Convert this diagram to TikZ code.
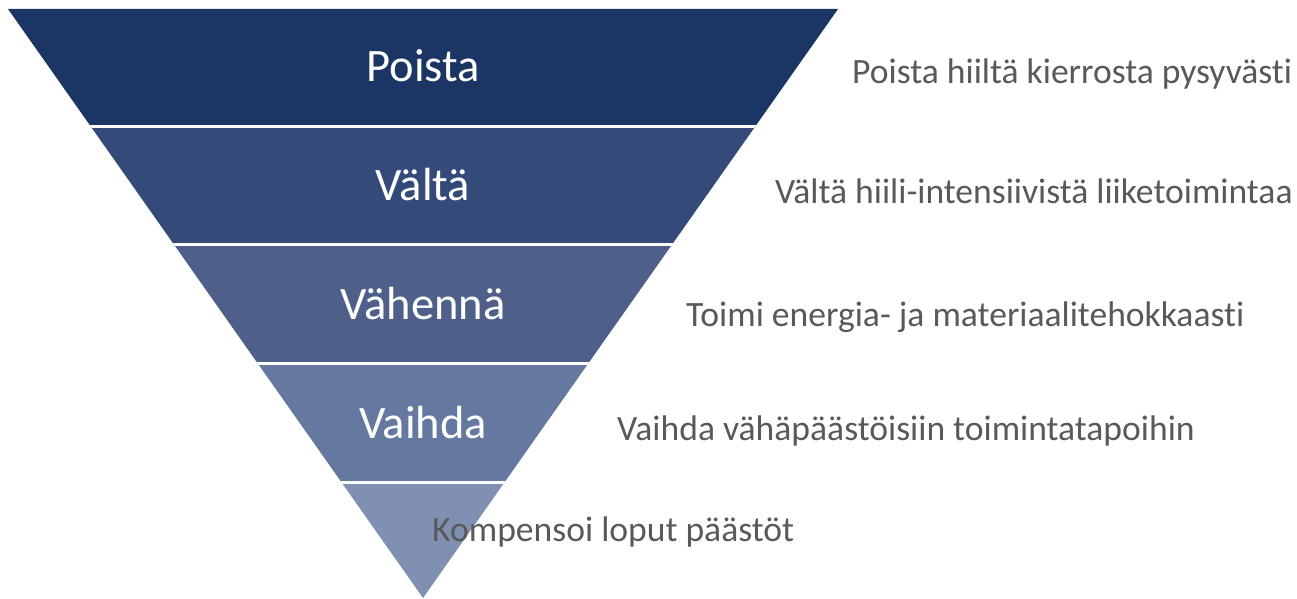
\documentclass[tikz,border=0pt]{standalone}
\usepackage{fontspec}
\setmainfont[Ligatures={NoCommon}]{Carlito}
\definecolor{bandA}{RGB}{27,53,100}
\definecolor{bandB}{RGB}{52,75,122}
\definecolor{bandC}{RGB}{78,96,138}
\definecolor{bandD}{RGB}{101,121,160}
\definecolor{bandE}{RGB}{128,144,178}
\definecolor{txtgray}{RGB}{89,89,89}
\tikzset{
  x=1pt,y=1pt,
  bandlabel/.style={text=white,font=\fontsize{46.5}{50}\selectfont,anchor=base,inner sep=0pt},
  desc/.style={text=txtgray,font=\fontsize{35.6}{40}\selectfont,anchor=base west,inner sep=0pt},
  sep/.style={white,line width=3pt}
}
\begin{document}
\begin{tikzpicture}
\useasboundingbox (0,0) rectangle (1297,599);
\coordinate (A) at (8,590);
\coordinate (B) at (838,590);
\coordinate (C) at (423,1);
\begin{scope}
\clip (A) -- (B) -- (C) -- cycle;
\fill[bandA] (0,472.5) rectangle (900,599);
\fill[bandB] (0,354) rectangle (900,472.5);
\fill[bandC] (0,235) rectangle (900,354);
\fill[bandD] (0,116) rectangle (900,235);
\fill[bandE] (0,0) rectangle (900,116);
\draw[sep] (0,472.5) -- (900,472.5);
\draw[sep] (0,354) -- (900,354);
\draw[sep] (0,235) -- (900,235);
\draw[sep] (0,116) -- (900,116);
\end{scope}
\node[bandlabel] (l1) at (423,517) {Poista};
\node[bandlabel] (l2) at (423,398) {Vältä};
\node[bandlabel] (l3) at (423,279) {Vähennä};
\node[bandlabel] (l4) at (423,160) {Vaihda};
\node[desc] (d1) at (852,515) {Poista hiiltä kierrosta pysyvästi};
\node[desc] (d2) at (775,395) {Vältä hiili-intensiivistä liiketoimintaa};
\node[desc] (d3) at (686,272) {Toimi energia- ja materiaalitehokkaasti};
\node[desc] (d4) at (617,158) {Vaihda vähäpäästöisiin toimintatapoihin};
\node[desc] (d5) at (432,57) {Kompensoi loput päästöt};
\end{tikzpicture}
\end{document}
